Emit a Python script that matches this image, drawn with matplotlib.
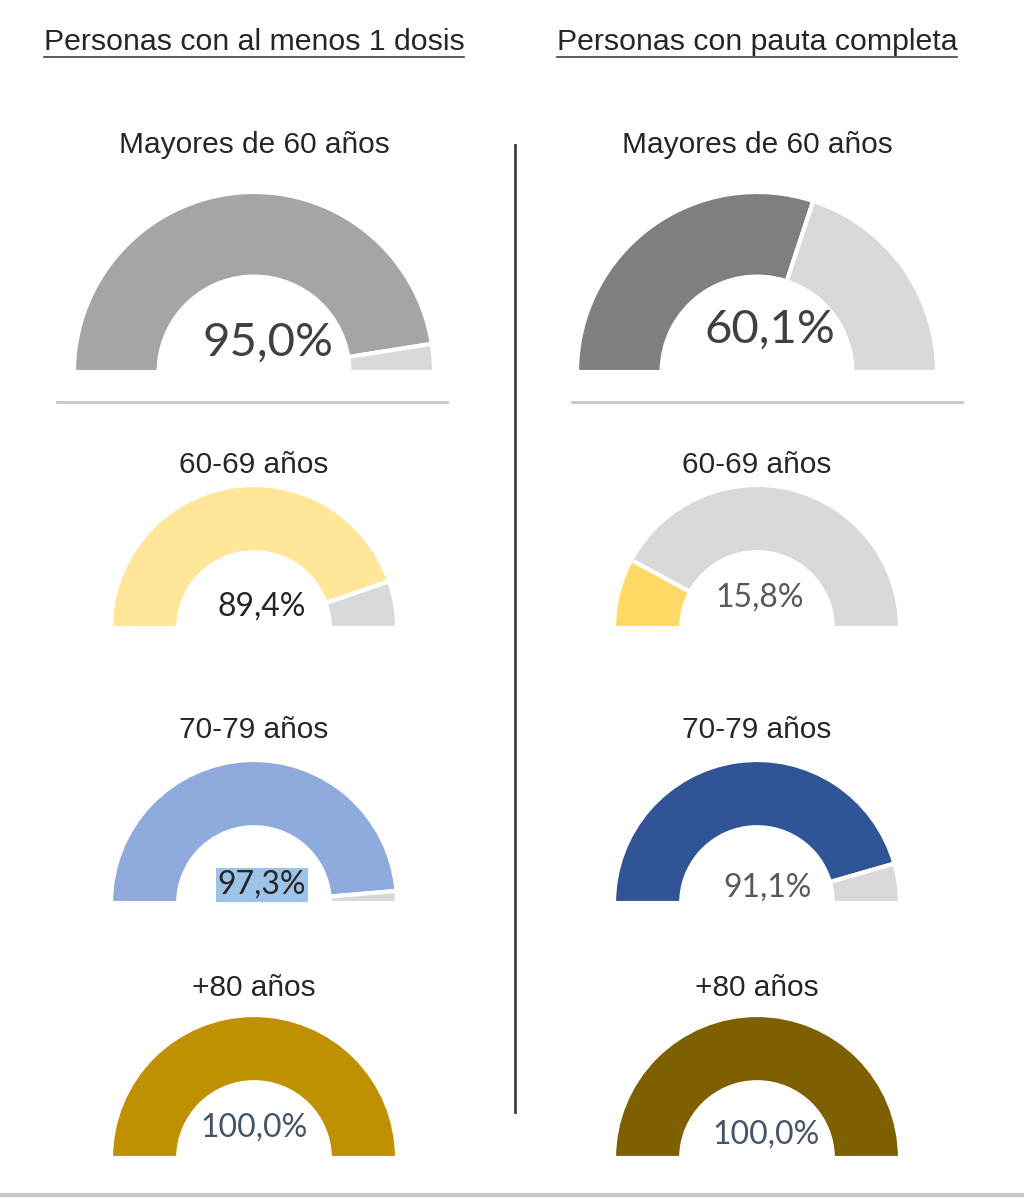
import matplotlib.pyplot as plt
from matplotlib.patches import Wedge

# datos
cabeceras = ['Personas con al menos 1 dosis', 'Personas con pauta completa']
grupos = ['Mayores de 60 años', '60-69 años', '70-79 años', '+80 años']
una_dosis = [95.0, 89.4, 97.3, 100.0]
pauta_completa = [60.1, 15.8, 91.1, 100.0]
etiquetas_una = ['95,0%', '89,4%', '97,3%', '100,0%']
etiquetas_pauta = ['60,1%', '15,8%', '91,1%', '100,0%']

colores_una = ['#a5a5a5', '#ffe699', '#8faadc', '#bf9000']
colores_pauta = ['#7f7f7f', '#ffd966', '#2f5597', '#7f6000']
gris_resto = '#d9d9d9'

W, H = 1024, 1198
fig = plt.figure(figsize=(W / 100, H / 100), dpi=100)
ax = fig.add_axes([0, 0, 1, 1])
ax.set_xlim(0, W)
ax.set_ylim(H, 0)
ax.set_aspect('equal')
ax.axis('off')


def gauge(cx, cy, r, valor, color, ancho):
    # el eje y esta invertido, asi que los angulos van al reves
    corte = 180 + 180 * valor / 100
    ax.add_patch(Wedge((cx, cy), r, 180, corte, width=ancho,
                       facecolor=color, edgecolor='white', linewidth=3))
    if valor < 100:
        ax.add_patch(Wedge((cx, cy), r, corte, 360, width=ancho,
                           facecolor=gris_resto, edgecolor='white', linewidth=3))


# posiciones: (y base, radio, y del titulo, posicion texto izq, posicion texto der, tamaño)
filas = [
    (372, 180, 145, (268, 343), (770, 330), 34),
    (628, 143, 465, (262, 607), (760, 598), 23),
    (903, 143, 730, (262, 885), (768, 888), 23),
    (1158, 143, 988, (254, 1128), (766, 1135), 23),
]
cols_x = [254, 757]

for i, (yb, r, yt, pt_izq, pt_der, fs) in enumerate(filas):
    for j, cx in enumerate(cols_x):
        valores = una_dosis if j == 0 else pauta_completa
        colores = colores_una if j == 0 else colores_pauta
        etiquetas = etiquetas_una if j == 0 else etiquetas_pauta
        gauge(cx, yb, r, valores[i], colores[i], r * 0.47)
        ax.text(cx, yt, grupos[i], ha='center', va='center', fontsize=21.5,
                family='Liberation Sans', color='#262626')
        px, py = pt_izq if j == 0 else pt_der
        if i == 0:
            col_txt = '#404040'
        elif i == 3:
            col_txt = '#44546a'
        elif j == 1:
            col_txt = '#595959'
        else:
            col_txt = '#262626'
        caja = None
        if i == 2 and j == 0:
            caja = dict(boxstyle='square,pad=0.05', facecolor='#9dc3e6', edgecolor='none')
        ax.text(px, py, etiquetas[i], ha='center', va='center', fontsize=fs,
                family='Lato', color=col_txt, bbox=caja)

# cabeceras subrayadas
for cx, txt in zip(cols_x, cabeceras):
    ax.text(cx, 42, txt, ha='center', va='center', fontsize=21.8,
            family='Liberation Sans', color='#262626')
ax.plot([44, 464], [57, 57], color='#404040', lw=1.2)
ax.plot([557, 957], [57, 57], color='#404040', lw=1.2)

# separadores
ax.plot([57, 447], [402, 402], color='#c8c8c8', lw=2)
ax.plot([572, 962], [402, 402], color='#c8c8c8', lw=2)
ax.plot([515, 515], [145, 1112], color='#404040', lw=2)
ax.plot([0, W], [1195, 1195], color='#c8c8c8', lw=3)

fig.savefig('out.png', dpi=100)
